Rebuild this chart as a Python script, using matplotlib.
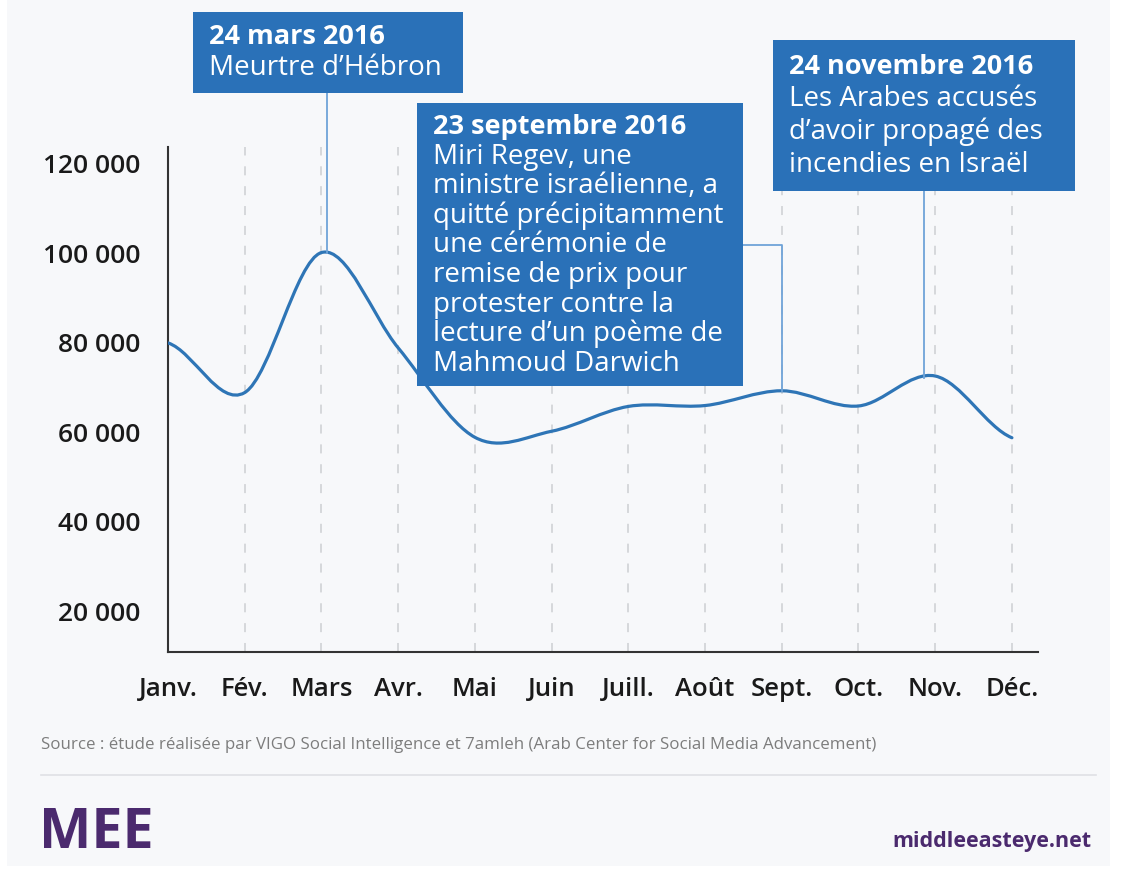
import numpy as np
import matplotlib.pyplot as plt
from matplotlib.path import Path
from matplotlib.patches import PathPatch, Rectangle

# data (mentions per month, 2016)
months = ["Janv.", "Fév.", "Mars", "Avr.", "Mai", "Juin", "Juill.", "Août",
          "Sept.", "Oct.", "Nov.", "Déc."]
mentions = [80000, 68900, 100200, 78900, 58900, 60250, 65800, 66000,
            69300, 65900, 72600, 58800]
y_ticks = [20000, 40000, 60000, 80000, 100000, 120000]
y_ticklabels = ["20 000", "40 000", "60 000", "80 000", "100 000", "120 000"]

ev_march = ["24 mars 2016", "Meurtre d’Hébron"]
ev_sept = ["23 septembre 2016", "Miri Regev, une", "ministre israélienne, a",
           "quitté précipitamment", "une cérémonie de", "remise de prix pour",
           "protester contre la", "lecture d’un poème de", "Mahmoud Darwich"]
ev_nov = ["24 novembre 2016", "Les Arabes accusés", "d’avoir propagé des",
          "incendies en Israël"]
source = ("Source : étude réalisée par VIGO Social Intelligence et 7amleh "
          "(Arab Center for Social Media Advancement)")

BG = "#f7f8fa"
BLUE = "#2e75b6"
BOX = "#2a71b8"
PURPLE = "#4b2a6e"
plt.rcParams["font.family"] = ["Open Sans", "DejaVu Sans"]

W, H = 1123, 874
fig = plt.figure(figsize=(W / 100, H / 100), dpi=100, facecolor="white")

# background panel + overlay in pixel coords
ov = fig.add_axes([0, 0, 1, 1], zorder=0)
ov.set_xlim(0, W)
ov.set_ylim(H, 0)
ov.axis("off")
ov.add_patch(Rectangle((7, 0), 1103, 866, color=BG, lw=0))

ax = fig.add_axes([168 / W, 1 - 652 / H, (1038 - 168) / W, (652 - 147) / H], zorder=1)
ax.patch.set_alpha(0)
x = np.arange(len(months))
y = np.array(mentions, dtype=float)
ax.set_xlim(0, 11.34)
ax.set_ylim(10900, 123800)

# catmull-rom style smooth line as bezier path
verts = [(x[0], y[0])]
codes = [Path.MOVETO]
for i in range(len(x) - 1):
    p0 = y[i - 1] if i > 0 else y[i]
    p3 = y[i + 2] if i + 2 < len(y) else y[i + 1]
    c1 = y[i] + (y[i + 1] - p0) / 6
    c2 = y[i + 1] - (p3 - y[i]) / 6
    verts += [(x[i] + 1 / 3, c1), (x[i] + 2 / 3, c2), (x[i + 1], y[i + 1])]
    codes += [Path.CURVE4] * 3
ax.add_patch(PathPatch(Path(verts, codes), fill=False, ec=BLUE, lw=2.3,
                       capstyle="round", joinstyle="round", zorder=3))

for xi in x[1:]:
    ax.axvline(xi, color="#d3d5d8", lw=1.3, ls=(0, (5, 6)), zorder=1)

for s in ["top", "right"]:
    ax.spines[s].set_visible(False)
for s in ["left", "bottom"]:
    ax.spines[s].set_color("#333333")
    ax.spines[s].set_linewidth(1.5)
ax.set_xticks(x)
ax.set_xticklabels(months)
ax.set_yticks(y_ticks)
ax.set_yticklabels(y_ticklabels)
ax.tick_params(length=0, colors="#1a1a1a")
ax.tick_params(axis="y", pad=20, labelsize=19)
ax.tick_params(axis="x", pad=18, labelsize=18.5)
for lab in ax.get_xticklabels() + ax.get_yticklabels():
    lab.set_fontweight("semibold")


def to_px(xd, yd):
    dx, dy = ax.transData.transform((xd, yd))
    return dx, H - dy


def box(x0, y0, x1, y1, lines, base0, step):
    ov2.add_patch(Rectangle((x0, y0), x1 - x0, y1 - y0, color=BOX, lw=0))
    for i, t in enumerate(lines):
        ov2.text(x0 + 16, base0 + i * step, t, color="white",
                 fontsize=19.5 if i == 0 else 20,
                 fontweight="bold" if i == 0 else "normal", va="baseline", ha="left")


ov2 = fig.add_axes([0, 0, 1, 1], zorder=2)
ov2.set_xlim(0, W)
ov2.set_ylim(H, 0)
ov2.axis("off")

conn = dict(color="#6fa3d8", lw=1.3, zorder=0)
# connectors to the curve
mx, my = to_px(2.07, mentions[2])
ov2.plot([mx, mx], [93, my], **conn)
sx, sy = to_px(8, mentions[8])
ov2.plot([742, sx, sx], [245, 245, sy], **conn)
nx, ny = to_px(9.85, mentions[10])
ov2.plot([nx, nx], [190, ny + 2], **conn)

box(193, 12, 463, 93, ev_march, 44, 31)
box(417, 103, 743, 386, ev_sept, 134, 29.6)
box(773, 40, 1075, 191, ev_nov, 74, 32.5)

# footer
ov2.text(41, 745, source, fontsize=12.2, color="#7d7d7d", va="center", ha="left")
ov2.plot([41, 1096], [775, 775], color="#dfe1e5", lw=1.2)
ov2.text(39, 848, "MEE", fontsize=40, fontweight="bold", color=PURPLE,
         va="baseline", ha="left")
ov2.text(1092, 847, "middleeasteye.net", fontsize=15.5, fontweight="bold",
         color=PURPLE, va="baseline", ha="right")

fig.savefig("out.png", dpi=100, facecolor="white")
